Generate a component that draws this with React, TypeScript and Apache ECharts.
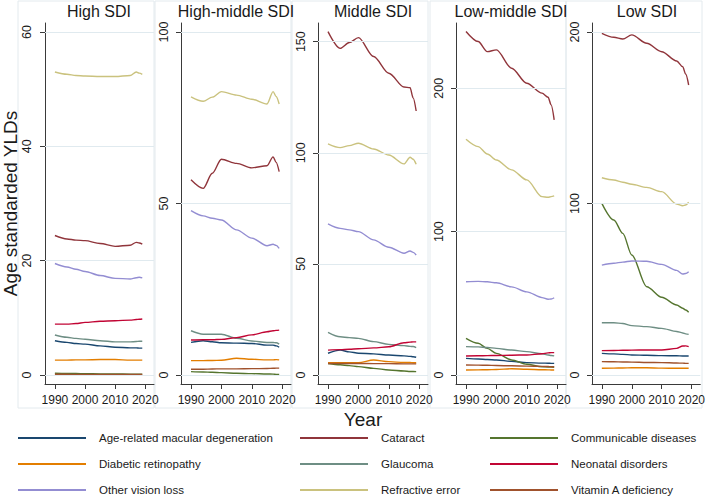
import React, { useEffect, useRef } from "react";
import * as echarts from "echarts";

const years = [1990, 1994, 1997, 2000, 2005, 2010, 2015, 2017, 2018, 2019];
const causes = [
  "Age-related macular degeneration",
  "Cataract",
  "Communicable diseases",
  "Diabetic retinopathy",
  "Glaucoma",
  "Neonatal disorders",
  "Other vision loss",
  "Refractive error",
  "Vitamin A deficiency",
];
const causeColors = ["#1a476f", "#90353b", "#55752f", "#e37e00", "#6e8e84", "#c10534", "#938dd2", "#cac27e", "#a0522d"];
const panelTitles = ["High SDI", "High-middle SDI", "Middle SDI", "Low-middle SDI", "Low SDI"];
const yTicks = [[0, 20, 40, 60], [0, 50, 100], [0, 50, 100, 150], [0, 100, 200], [0, 100, 200]];
const xTicks = [1990, 2000, 2010, 2020];

// rows follow the order of `causes`
const highSDI = [
  [6.0, 5.7, 5.5, 5.4, 5.1, 4.85, 4.75, 4.75, 4.7, 4.7],
  [24.4, 23.8, 23.6, 23.5, 23.0, 22.5, 22.7, 23.2, 23.1, 22.9],
  [0.3, 0.28, 0.25, 0.22, 0.2, 0.18, 0.15, 0.15, 0.15, 0.15],
  [2.6, 2.6, 2.65, 2.65, 2.7, 2.7, 2.6, 2.6, 2.6, 2.6],
  [7.0, 6.6, 6.4, 6.25, 6.0, 5.8, 5.8, 5.85, 5.9, 5.9],
  [8.9, 8.9, 9.0, 9.2, 9.4, 9.5, 9.6, 9.7, 9.75, 9.8],
  [19.5, 18.9, 18.5, 18.1, 17.4, 16.9, 16.8, 17.0, 17.1, 17.0],
  [53.0, 52.6, 52.4, 52.3, 52.2, 52.2, 52.4, 53.0, 52.8, 52.6],
  [0.12, 0.12, 0.11, 0.11, 0.1, 0.1, 0.1, 0.1, 0.1, 0.1],
];
const highMiddleSDI = [
  [9.5, 10.0, 9.7, 9.4, 9.3, 9.2, 8.7, 8.7, 8.5, 8.1],
  [56.9, 54.4, 58.8, 62.9, 61.7, 60.4, 61.0, 63.6, 62.0, 59.3],
  [1.0, 0.9, 0.8, 0.7, 0.5, 0.4, 0.3, 0.25, 0.2, 0.2],
  [4.2, 4.2, 4.25, 4.3, 4.9, 4.6, 4.4, 4.4, 4.5, 4.4],
  [12.9, 11.9, 11.9, 11.9, 10.7, 9.9, 9.5, 9.5, 9.4, 9.0],
  [10.2, 10.3, 10.3, 10.4, 10.9, 11.7, 12.6, 12.9, 13.0, 13.1],
  [47.9, 46.4, 45.7, 45.2, 42.3, 39.9, 37.7, 38.1, 37.8, 36.9],
  [81.1, 79.8, 81.0, 82.6, 81.6, 80.4, 79.0, 82.6, 81.2, 79.0],
  [1.7, 1.7, 1.75, 1.8, 1.8, 1.85, 1.9, 1.95, 2.0, 2.0],
];
const middleSDI = [
  [9.8, 11.2, 10.4, 9.8, 9.5, 9.0, 8.6, 8.4, 8.2, 8.0],
  [154.5, 147.0, 149.6, 151.8, 143.3, 135.8, 129.6, 129.3, 124.7, 118.8],
  [5.2, 4.6, 4.2, 3.75, 3.0, 2.25, 1.8, 1.6, 1.55, 1.5],
  [5.5, 5.5, 5.5, 5.5, 6.75, 6.0, 5.6, 5.6, 5.5, 5.5],
  [19.2, 17.2, 16.8, 16.5, 15.0, 13.8, 13.2, 12.9, 12.8, 12.3],
  [11.2, 11.4, 11.6, 11.8, 12.2, 12.7, 14.5, 14.8, 14.9, 14.9],
  [68.0, 66.0, 65.3, 64.5, 60.8, 57.5, 54.8, 55.8, 55.2, 54.0],
  [104.0, 102.3, 103.2, 104.3, 101.7, 99.0, 95.0, 98.0, 97.1, 94.8],
  [5.2, 5.2, 5.2, 5.2, 5.1, 5.1, 5.0, 5.0, 5.0, 5.0],
];
const lowMiddleSDI = [
  [11.6, 11.2, 10.8, 10.5, 9.5, 8.6, 8.3, 8.2, 8.1, 8.1],
  [239.6, 232.6, 225.6, 226.8, 214.0, 203.5, 196.6, 193.8, 188.4, 178.0],
  [25.6, 22.1, 18.6, 15.1, 10.5, 7.5, 5.8, 5.6, 5.5, 5.4],
  [3.5, 3.6, 3.7, 3.8, 4.4, 4.0, 3.7, 3.6, 3.5, 3.5],
  [19.8, 19.6, 19.2, 18.6, 17.4, 16.3, 14.8, 14.0, 13.6, 13.3],
  [13.3, 13.4, 13.5, 13.6, 13.8, 14.0, 14.8, 15.4, 15.6, 15.6],
  [65.1, 65.3, 65.0, 64.3, 61.5, 58.0, 54.0, 52.8, 53.0, 53.9],
  [164.4, 159.3, 154.2, 150.0, 143.1, 136.1, 124.4, 124.0, 124.4, 124.9],
  [7.0, 6.9, 6.8, 6.6, 6.4, 6.2, 6.0, 5.9, 5.8, 5.8],
];
const lowSDI = [
  [12.6, 12.3, 12.0, 11.7, 11.5, 11.3, 11.2, 11.1, 11.1, 11.1],
  [199.2, 196.9, 195.9, 198.3, 193.4, 188.5, 183.1, 179.8, 175.5, 169.1],
  [100.1, 90.4, 82.6, 70.0, 51.5, 45.3, 40.8, 38.9, 37.9, 36.6],
  [3.9, 4.0, 4.1, 4.2, 4.2, 4.0, 3.9, 3.9, 3.9, 3.9],
  [30.5, 30.5, 30.0, 28.8, 28.2, 27.2, 25.4, 24.5, 24.0, 23.7],
  [14.2, 14.3, 14.4, 14.5, 14.6, 14.6, 15.5, 16.9, 17.0, 16.5],
  [64.1, 65.2, 65.8, 66.5, 66.3, 64.5, 61.0, 58.9, 59.2, 60.2],
  [115.0, 113.7, 112.4, 111.2, 109.4, 106.9, 99.7, 98.7, 99.1, 100.7],
  [7.8, 7.7, 7.6, 7.5, 7.3, 7.2, 7.0, 6.9, 6.8, 6.8],
];
const panelData = [highSDI, highMiddleSDI, middleSDI, lowMiddleSDI, lowSDI];

// layout
const FONT = "'Liberation Sans', Arial, sans-serif";
const TEXT = "#1a1a1a";
const AXIS = "#3a3a3a";
const GRID = "#e0eaef";
const FRAME = "#e3eaee";
const axisLeft = [44, 181, 318, 456, 592];
const PLOT_TOP = 23;
const PLOT_H = 361;
const PLOT_W = 110;
const X_MIN = 1986.71;
const X_MAX = 2022.89;
const yRange = [
  [-1.574, 61.57],
  [-2.62, 102.62],
  [-4.05, 158.4],
  [-6.28, 245.55],
  [-5.25, 205.25],
];
const Y_LABEL_OFFSET = 17;
const legendLeft = [18, 300, 490];
const legendRowY = [438, 464, 490];
const LEG_LINE = 68;
const LEG_TEXT_GAP = 13;

export default function App() {
  const ref = useRef<HTMLDivElement>(null);
  useEffect(() => {
    const chart = echarts.init(ref.current!, null, { renderer: "svg" });
    const fmt = (v: number) => String(v);
    const grid = axisLeft.map((x) => ({ left: x, top: PLOT_TOP, width: PLOT_W, height: PLOT_H, containLabel: false }));
    const xAxis = axisLeft.map((_, i) => ({
      type: "value",
      gridIndex: i,
      min: X_MIN,
      max: X_MAX,
      axisLine: { show: true, onZero: false, lineStyle: { color: AXIS, width: 1 } },
      axisTick: { show: true, customValues: xTicks, length: 5, lineStyle: { color: AXIS } },
      axisLabel: { customValues: xTicks, formatter: fmt, fontSize: 12, color: TEXT, margin: 10, fontFamily: FONT },
      splitLine: { show: false },
    }));
    const yAxis = axisLeft.map((_, i) => ({
      type: "value",
      gridIndex: i,
      min: yRange[i][0],
      max: yRange[i][1],
      name: i === 0 ? "Age standarded YLDs" : "",
      nameLocation: "middle",
      nameRotate: 90,
      nameGap: 25,
      nameTextStyle: { fontSize: 19, color: TEXT, fontFamily: FONT },
      axisLine: { show: true, onZero: false, lineStyle: { color: AXIS, width: 1 } },
      axisTick: { show: true, customValues: yTicks[i], length: 5, lineStyle: { color: AXIS } },
      axisLabel: { show: false },
      splitLine: { show: false },
    }));
    const series: any[] = [];
    panelData.forEach((rows, i) => {
      series.push({
        type: "line",
        xAxisIndex: i,
        yAxisIndex: i,
        data: [],
        silent: true,
        z: 1,
        markLine: {
          silent: true,
          symbol: "none",
          label: { show: false },
          lineStyle: { color: GRID, type: "solid", width: 1 },
          data: yTicks[i].map((v) => ({ yAxis: v })),
        },
      });
      rows.forEach((vals, k) => {
        series.push({
          type: "line",
          name: causes[k],
          xAxisIndex: i,
          yAxisIndex: i,
          data: years.map((y, j) => [y, vals[j]]),
          showSymbol: false,
          smooth: 0.3,
          smoothMonotone: "x",
          color: causeColors[k],
          lineStyle: { color: causeColors[k], width: 1.4 },
          z: 3,
        });
      });
    });
    const title = panelTitles.map((t, i) => ({
      text: t,
      left: axisLeft[i] + PLOT_W / 2,
      top: 3,
      textAlign: "center",
      padding: 0,
      textStyle: { fontSize: 16, fontWeight: "normal", color: TEXT, fontFamily: FONT },
    }));
    const frames = axisLeft.map((x) => ({
      type: "rect",
      shape: { x: x - 26, y: 1, width: 136, height: 407 },
      style: { fill: "none", stroke: FRAME, lineWidth: 1 },
      silent: true,
      z: 0,
    }));
    const legendItems: any[] = [];
    causes.forEach((name, k) => {
      const col = k % 3;
      const row = Math.floor(k / 3);
      const x0 = legendLeft[col];
      const y0 = legendRowY[row];
      legendItems.push({
        type: "line",
        shape: { x1: x0, y1: y0, x2: x0 + LEG_LINE, y2: y0 },
        style: { stroke: causeColors[k], lineWidth: 2 },
        silent: true,
      });
      legendItems.push({
        type: "text",
        x: x0 + LEG_LINE + LEG_TEXT_GAP,
        y: y0,
        style: { text: name, fontSize: 11.5, fill: TEXT, fontFamily: FONT, align: "left", verticalAlign: "middle" },
        silent: true,
      });
    });
    const staticGraphic = [
      ...frames,
      {
        type: "text",
        x: 363,
        y: 419,
        style: { text: "Year", fontSize: 19, fill: TEXT, fontFamily: FONT, align: "center", verticalAlign: "middle" },
      },
      ...legendItems,
    ];
    chart.setOption({
      animation: false,
      backgroundColor: "#ffffff",
      title,
      grid,
      xAxis,
      yAxis,
      series,
      graphic: staticGraphic,
    });
    // rotated y tick labels placed through the y axes' own scales
    const yLabels: any[] = [];
    yTicks.forEach((ticks, i) => {
      ticks.forEach((v) => {
        const py = chart.convertToPixel({ yAxisIndex: i }, v) as number;
        yLabels.push({
          type: "text",
          x: axisLeft[i] - Y_LABEL_OFFSET,
          y: py,
          rotation: Math.PI / 2,
          style: { text: fmt(v), fontSize: 12.5, fill: TEXT, fontFamily: FONT, align: "center", verticalAlign: "middle" },
          silent: true,
        });
      });
    });
    chart.setOption({ graphic: [...staticGraphic, ...yLabels] });
    return () => chart.dispose();
  }, []);
  return <div ref={ref} style={{ position: "fixed", left: 0, top: 0, width: 708, height: 499 }} />;
}
